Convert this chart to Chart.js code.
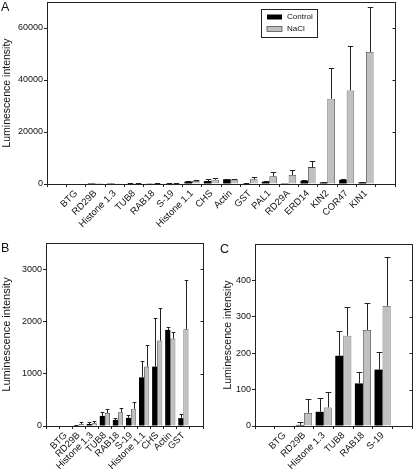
<!DOCTYPE html>
<html><head><meta charset="utf-8">
<script src="https://cdn.jsdelivr.net/npm/chart.js@4/dist/chart.umd.min.js"></script>
<style>
html,body{margin:0;padding:0;background:#fff;}
#wrap{position:relative;width:415px;height:469px;overflow:hidden;background:#fff;}
canvas{position:absolute;}
.lab{position:absolute;font:12.5px "Liberation Sans",Arial,sans-serif;color:#111;line-height:1;}
</style></head><body>
<div id="wrap">
<canvas id="cA" width="415" height="238" style="left:0;top:0"></canvas>
<canvas id="cB" width="210" height="229" style="left:0;top:240px"></canvas>
<canvas id="cC" width="201" height="229" style="left:214px;top:240px"></canvas>
<div class="lab" style="left:1px;top:1px">A</div>
<div class="lab" style="left:1px;top:242px">B</div>
<div class="lab" style="left:220px;top:243px">C</div>
</div>
<script>
// ---- data ----
const categories = ['BTG','RD29B','Histone 1.3','TUB8','RAB18','S-19','Histone 1.1','CHS','Actin','GST','PAL1','RD29A','ERD14','KIN2','COR47','KIN1'];
const control    = [0, 3, 39, 193, 117, 155, 930, 1136, 1838, 150, 900, 60, 1250, 640, 1600, 640];
const controlErr = [0, 9, 39, 68, 32, 49, 315, 930, 52, 73, 300, 0, 350, 200, 300, 200];
const nacl       = [0, 36, 51, 248, 264, 330, 1136, 1633, 1672, 1851, 2935, 3445, 6508, 32800, 36000, 50800];
const naclErr    = [0, 39, 43, 78, 73, 134, 410, 620, 128, 940, 1530, 1780, 2420, 11860, 17220, 17220];
const seriesNames = ['Control', 'NaCl'];
const yTicksA = [0, 20000, 40000, 60000], yMaxA = 70000;
const yTicksB = [0, 1000, 2000, 3000],    yMaxB = 3500;
const yTicksC = [0, 100, 200, 300, 400],  yMaxC = 500;
const countA = 16, countB = 10, countC = 6;
const yTitle = 'Luminescence intensity';

const FONT = '"Liberation Sans", Arial, sans-serif';
const INK = '#111';

const errPlugin = {
  id: 'errbars',
  afterDatasetsDraw(chart) {
    const ctx = chart.ctx, ys = chart.scales.y;
    chart.data.datasets.forEach((ds, i) => {
      const meta = chart.getDatasetMeta(i);
      meta.data.forEach((bar, j) => {
        const v = ds.data[j].y, e = ds.errs[j];
        if (!e) return;
        const yTop = Math.round(ys.getPixelForValue(v + e)) + 0.5;
        const x = Math.round(bar.x) + 0.5;
        const half = bar.width * 0.36;
        ctx.save();
        ctx.strokeStyle = '#222'; ctx.lineWidth = 1;
        ctx.beginPath();
        ctx.moveTo(x, bar.y); ctx.lineTo(x, yTop);
        ctx.moveTo(x - half, yTop); ctx.lineTo(x + half, yTop);
        ctx.stroke();
        ctx.restore();
      });
    });
  }
};

const framePlugin = {
  id: 'frame',
  afterDatasetsDraw(chart) {
    const {ctx, chartArea: a} = chart;
    const ys = chart.scales.y;
    ctx.save();
    ctx.strokeStyle = '#222'; ctx.lineWidth = 1;
    const l = Math.round(a.left) + 0.5, r = Math.round(a.right) + 0.5;
    const t = Math.round(a.top) + 0.5, b = Math.round(a.bottom) + 0.5;
    ctx.strokeRect(l, t, r - l, b - t);
    ctx.beginPath();
    ys.ticks.forEach(tk => {
      const y = Math.round(ys.getPixelForValue(tk.value)) + 0.5;
      ctx.moveTo(r, y); ctx.lineTo(r - 3, y);
    });
    ctx.stroke();
    ctx.restore();
  }
};

const boxLegendPlugin = {
  id: 'boxLegend',
  afterDraw(chart, args, o) {
    if (!o || !o.show) return;
    const ctx = chart.ctx;
    ctx.save();
    ctx.strokeStyle = '#222'; ctx.lineWidth = 1;
    ctx.strokeRect(o.x + 0.5, o.y + 0.5, o.w, o.h);
    ctx.font = '8px ' + FONT;
    ctx.textBaseline = 'middle';
    chart.data.datasets.forEach((ds, i) => {
      const cy = o.y + 8 + i * 12;
      ctx.fillStyle = ds.backgroundColor;
      ctx.fillRect(o.x + 6, cy - 2.5, 15, 5);
      if (ds.borderWidth) { ctx.strokeStyle = '#555'; ctx.lineWidth = 0.8; ctx.strokeRect(o.x + 6, cy - 2.5, 15, 5); }
      ctx.fillStyle = INK;
      ctx.fillText(ds.label, o.x + 26, cy);
    });
    ctx.restore();
  }
};

function makeChart(id, n, cfg) {
  const pts = arr => arr.slice(0, n).map((v, i) => ({x: i, y: v}));
  return new Chart(document.getElementById(id), {
    type: 'bar',
    data: {
      datasets: [
        {label: seriesNames[0], data: pts(control), errs: controlErr.slice(0, n),
         backgroundColor: '#000', borderWidth: 0},
        {label: seriesNames[1], data: pts(nacl), errs: naclErr.slice(0, n),
         backgroundColor: '#c0c0c0', borderColor: '#444', borderWidth: 0.8}
      ]
    },
    options: {
      responsive: false, animation: false, devicePixelRatio: 1,
      categoryPercentage: cfg.cat, barPercentage: 1,
      layout: {padding: cfg.pad},
      plugins: {legend: {display: false}, tooltip: {enabled: false},
                boxLegend: cfg.legend || {show: false}},
      scales: {
        x: {
          type: 'linear', min: -1, max: n,
          grid: {display: true, drawOnChartArea: false, drawTicks: true, tickLength: 3, color: '#222'},
          border: {display: false},
          ticks: {stepSize: 1, autoSkip: false, maxRotation: 45, minRotation: 45, padding: 1,
                  color: INK, font: {family: FONT, size: cfg.xFont},
                  callback: v => (Number.isInteger(v) && v >= 0 && v < n) ? categories[v] : ''},
          afterFit(s) { s.height = cfg.xH; s.paddingLeft = 0; s.paddingRight = 0; }
        },
        y: {
          min: 0, max: cfg.yMax,
          grid: {display: true, drawOnChartArea: false, drawTicks: true, tickLength: 3, color: '#222'},
          border: {display: false},
          ticks: {padding: 1, color: INK, autoSkip: false,
                  font: {family: FONT, size: cfg.yFont}, callback: v => String(v)},
          afterBuildTicks(s) { s.ticks = cfg.yTicks.map(v => ({value: v})); },
          title: {display: true, text: yTitle, color: INK,
                  font: {family: FONT, size: cfg.tFont}, padding: {top: cfg.tPad, bottom: 0}},
          afterFit(s) { s.width = cfg.yW; s.paddingTop = 0; s.paddingBottom = 0; }
        }
      }
    },
    plugins: [framePlugin, errPlugin, boxLegendPlugin]
  });
}

makeChart('cA', countA, {cat: 0.78, pad: {top: 2, right: 20, left: 0, bottom: 0},
  xH: 54, yW: 47, yMax: yMaxA, yTicks: yTicksA, xFont: 9.5, yFont: 9, tFont: 10.5, tPad: 0.7,
  legend: {show: true, x: 261, y: 9, w: 56, h: 28}});
makeChart('cB', countB, {cat: 0.78, pad: {top: 3, right: 7, left: 0, bottom: 0},
  xH: 43, yW: 46, yMax: yMaxB, yTicks: yTicksB, xFont: 9.5, yFont: 9, tFont: 11, tPad: 0});
makeChart('cC', countC, {cat: 0.82, pad: {top: 4, right: 3, left: 0, bottom: 0},
  xH: 43, yW: 41, yMax: yMaxC, yTicks: yTicksC, xFont: 9.5, yFont: 9, tFont: 10.5, tPad: 7.5});
</script>
</body></html>
